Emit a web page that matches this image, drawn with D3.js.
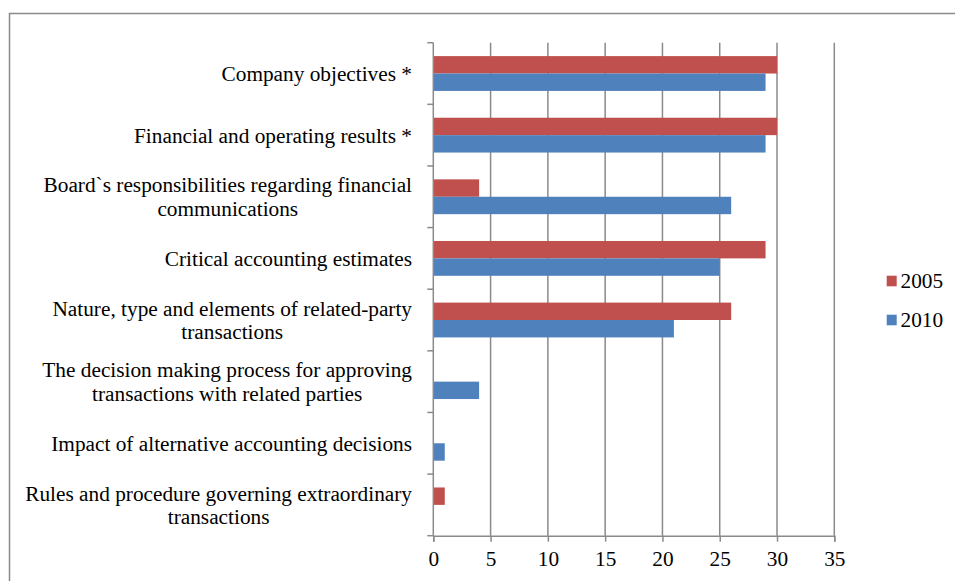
<!DOCTYPE html>
<html><head><meta charset="utf-8">
<script src="https://cdn.jsdelivr.net/npm/d3@7"></script>
<style>body{margin:0;background:#fff}svg{display:block}</style>
</head><body><svg id="c" width="955" height="581"></svg>
<script>
const categories = [
  ["Company objectives *"],
  ["Financial and operating results *"],
  ["Board`s responsibilities regarding financial","communications"],
  ["Critical accounting estimates"],
  ["Nature, type and elements of related-party","transactions"],
  ["The decision making process for approving","transactions with related parties"],
  ["Impact of alternative accounting decisions"],
  ["Rules and procedure governing extraordinary","transactions"]
];
const series = ["2005","2010"];
const values2005 = [30, 30, 4, 29, 26, 0, 0, 1];
const values2010 = [29, 29, 26, 25, 21, 4, 1, 0];
const xTicks = [0,5,10,15,20,25,30,35];
const colors = ["#C0504D","#4F81BD"];

(function(){
const FONT = "Liberation Serif";
const svg = d3.select("#c");
const FS = 21.3;
// frame
svg.append("rect").attr("x",9.5).attr("y",13.5).attr("width",960).attr("height",600)
  .attr("fill","none").attr("stroke","#8a8a8a").attr("stroke-width",1.5);

const pLeft=433.3, pRight=834.3, pTop=42.7, pBottom=535.7;
const x = d3.scaleLinear().domain([0,35]).range([pLeft,pRight]);
const keys = categories.map((c,i)=>i);
const y0 = d3.scaleBand().domain(keys).range([pTop,pBottom]).padding(0);
const y1 = d3.scaleBand().domain(series).range([0,y0.bandwidth()]).paddingInner(0).paddingOuter(0.77);

// gridlines
svg.append("g").selectAll("line").data(xTicks.slice(1)).join("line")
  .attr("x1",d=>x(d)).attr("x2",d=>x(d)).attr("y1",pTop).attr("y2",pBottom)
  .attr("stroke","#8a8a8a").attr("stroke-width",1.5);

// bars
const data = keys.map(i=>({i, vals:[values2005[i], values2010[i]]}));
const g = svg.append("g");
data.forEach(d=>{
  series.forEach((s,j)=>{
    if(d.vals[j]<=0) return;
    g.append("rect").attr("x",x(0)).attr("y",y0(d.i)+y1(s))
      .attr("width",x(d.vals[j])-x(0)).attr("height",y1.bandwidth()).attr("fill",colors[j]);
  });
});

// x axis
const xa = svg.append("g").attr("transform",`translate(0,${pBottom})`)
  .call(d3.axisBottom(x).tickValues(xTicks).tickSize(6).tickPadding(4));
xa.select(".domain").attr("stroke","#8a8a8a").attr("stroke-width",1.5);
xa.selectAll(".tick line").attr("stroke","#8a8a8a").attr("stroke-width",1.5);
xa.selectAll(".tick text").style("font-size",FS+"px").style("font-family",FONT).attr("fill","#000").attr("dy","0.95em");

// y axis line + ticks at band boundaries
const bounds = keys.map(i=>y0(i)).concat([pBottom]);
svg.append("line").attr("x1",pLeft).attr("x2",pLeft).attr("y1",pTop).attr("y2",pBottom).attr("stroke","#8a8a8a").attr("stroke-width",1.5);
svg.append("g").selectAll("line").data(bounds).join("line")
  .attr("x1",pLeft-6).attr("x2",pLeft).attr("y1",d=>d).attr("y2",d=>d).attr("stroke","#8a8a8a").attr("stroke-width",1.5);

// category labels
const labelRight = 412, lh = 23.5;
categories.forEach((lines,i)=>{
  const cy = y0(i)+y0.bandwidth()/2;
  const t = svg.append("text").style("font-size",FS+"px").style("font-family",FONT).attr("fill","#000").attr("text-anchor","middle");
  const n = lines.length;
  const spans = lines.map((l,k)=>t.append("tspan").text(l).attr("y", cy + (k-(n-1)/2)*lh).attr("dy","0.35em"));
  const w = d3.max(spans.map(s=>s.node().getComputedTextLength()));
  spans.forEach(s=>s.attr("x", labelRight - w/2));
});

// legend
series.forEach((s,j)=>{
  const ly = 281 + j*39;
  svg.append("rect").attr("x",886.7).attr("y",ly-5.3).attr("width",10).attr("height",10.6).attr("fill",colors[j]);
  svg.append("text").attr("x",900.5).attr("y",ly).attr("dy","0.35em").style("font-size",FS+"px").style("font-family",FONT).attr("fill","#000").text(s);
});
})();
</script></body></html>
